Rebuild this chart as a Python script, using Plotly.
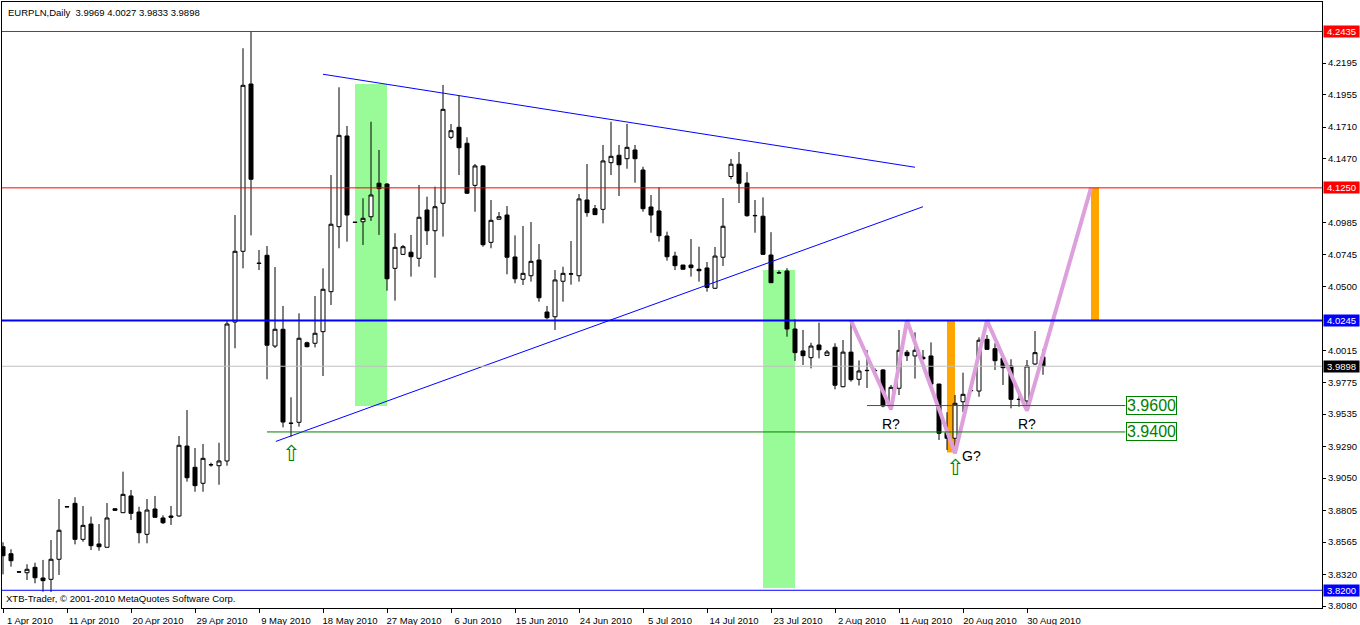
import pandas as pd
import plotly.graph_objects as go

# ---------------- data ----------------
symbol = "EURPLN,Daily"
_days = pd.date_range("2010-04-01", "2010-09-01", freq="D")
dates = [d for d in _days if d.weekday() != 5 and d != pd.Timestamp("2010-07-04")]

opens = [3.8530, 3.8477, 3.8340, 3.8333, 3.8374, 3.8293, 3.8283, 3.8435, 3.8834, 3.8859,
         3.8586, 3.8702, 3.8551, 3.8526, 3.8818, 3.8788, 3.8915, 3.8793, 3.8624, 3.8816,
         3.8748, 3.8763, 3.8763, 3.9293, 3.9132, 3.9011, 3.9150, 3.9144, 3.9180, 4.0233,
         4.0769, 4.2037, 4.0680, 4.0739, 4.0051, 4.0178, 3.9467, 3.9473, 4.0076, 4.0072,
         4.0160, 4.0463, 4.0956, 4.1643, 4.0990, 4.0993, 4.1031, 4.1285, 4.1279, 4.0640,
         4.0746, 4.0762, 4.0716, 4.1082, 4.0925, 4.1133, 4.1633, 4.1709, 4.1588, 4.1269,
         4.1416, 4.0837, 4.1012, 4.1044, 4.0726, 4.0557, 4.0584, 4.0703, 4.0309, 4.0273,
         4.0542, 4.0596, 4.0584, 4.1158, 4.1092, 4.1087, 4.1441, 4.1497, 4.1471, 4.1537,
         4.1385, 4.1105, 4.1075, 4.0885, 4.0733, 4.0665, 4.0665, 4.0633, 4.0643, 4.0489,
         4.0724, 4.1336, 4.1429, 4.1286, 4.1041, 4.1035, 4.0741, 4.0608, 4.0620, 4.0180,
         4.0014, 3.9963, 4.0059, 3.9980, 4.0042, 3.9743, 4.0005, 3.9799, 3.9867, 3.9864,
         3.9870, 3.9597, 3.9731, 4.0004, 3.9976, 3.9966, 3.9976, 3.9763, 3.9397, 3.9352,
         3.9629, 3.9712, 3.9710, 4.0102, 4.0031, 3.9958, 3.9900, 3.9648, 3.9635, 3.9915,
         3.9969]
highs = [3.8564, 3.8511, 3.8342, 3.8397, 3.8409, 3.8430, 3.8581, 3.8892, 3.8836, 3.8905,
         3.8839, 3.8758, 3.8702, 3.8861, 3.8820, 3.9099, 3.8960, 3.8833, 3.8892, 3.8915,
         3.8768, 3.8839, 3.9369, 3.9566, 3.9278, 3.9309, 3.9167, 3.9318, 4.0240, 4.1044,
         4.2308, 4.2435, 4.0779, 4.0809, 4.0650, 4.0355, 3.9663, 4.0299, 4.0084, 4.0430,
         4.0640, 4.1347, 4.2012, 4.1719, 4.0991, 4.1171, 4.1751, 4.1537, 4.1285, 4.0906,
         4.0817, 4.0893, 4.1272, 4.1183, 4.1259, 4.2030, 4.1734, 4.1948, 4.1633, 4.1431,
         4.1423, 4.1158, 4.1067, 4.1112, 4.0890, 4.0961, 4.0991, 4.0824, 4.0355, 4.0627,
         4.0652, 4.0847, 4.1203, 4.1431, 4.1120, 4.1575, 4.1751, 4.1575, 4.1734, 4.1575,
         4.1410, 4.1196, 4.1254, 4.0918, 4.0766, 4.0665, 4.0862, 4.0804, 4.0688, 4.0802,
         4.1173, 4.1469, 4.1522, 4.1369, 4.1158, 4.1178, 4.0914, 4.0625, 4.0641, 4.0254,
         4.0173, 4.0076, 4.0228, 4.0021, 4.0072, 4.0097, 4.0248, 3.9942, 4.0021, 3.9882,
         3.9875, 3.9756, 4.0173, 4.0021, 4.0155, 4.0021, 4.0079, 3.9765, 3.9549, 3.9680,
         3.9849, 3.9756, 4.0117, 4.0135, 4.0072, 3.9966, 3.9951, 3.9685, 3.9945, 4.0165,
         4.0027]
lows = [3.8321, 3.8379, 3.8334, 3.8278, 3.8253, 3.8189, 3.8187, 3.8316, 3.8831, 3.8548,
        3.8568, 3.8505, 3.8500, 3.8524, 3.8804, 3.8786, 3.8733, 3.8556, 3.8556, 3.8751,
        3.8702, 3.8695, 3.8758, 3.9023, 3.8947, 3.8947, 3.9137, 3.9000, 3.9144, 4.0034,
        4.0640, 4.0890, 4.0627, 3.9799, 4.0036, 3.9435, 3.9364, 3.9440, 4.0041, 4.0041,
        3.9824, 4.0362, 4.0792, 4.0842, 4.0987, 4.0817, 4.0999, 4.0893, 4.0470, 4.0395,
        4.0741, 4.0577, 4.0652, 4.0817, 4.0569, 4.0880, 4.1618, 4.1347, 4.1207, 4.1069,
        4.0804, 4.0792, 4.1010, 4.0595, 4.0527, 4.0514, 4.0539, 4.0387, 4.0254, 4.0173,
        4.0387, 4.0516, 4.0539, 4.1031, 4.1044, 4.0981, 4.1347, 4.1188, 4.1395, 4.1289,
        4.1069, 4.0910, 4.0842, 4.0698, 4.0627, 4.0633, 4.0577, 4.0539, 4.0463, 4.0483,
        4.0658, 4.1315, 4.1135, 4.1031, 4.0910, 4.0741, 4.0529, 4.0602, 4.0122, 3.9938,
        3.9907, 3.9882, 3.9958, 3.9978, 3.9723, 3.9738, 3.9781, 3.9752, 3.9733, 3.9858,
        3.9587, 3.9566, 3.9680, 3.9938, 3.9804, 3.9945, 3.9761, 3.9339, 3.9263, 3.9238,
        3.9551, 3.9705, 3.9667, 4.0021, 3.9870, 3.9756, 3.9579, 3.9591, 3.9579, 3.9907,
        3.9833]
closes = [3.8462, 3.8424, 3.8338, 3.8359, 3.8295, 3.8273, 3.8435, 3.8655, 3.8832, 3.8586,
          3.8692, 3.8538, 3.8530, 3.8748, 3.8806, 3.8927, 3.8783, 3.8636, 3.8808, 3.8753,
          3.8712, 3.8753, 3.9299, 3.9053, 3.8993, 3.9200, 3.9152, 3.9180, 4.0218, 4.0769,
          4.2027, 4.1315, 4.0677, 4.0057, 4.0178, 3.9475, 3.9465, 4.0110, 4.0046, 4.0148,
          4.0481, 4.0974, 4.1648, 4.1044, 4.0988, 4.1019, 4.1196, 4.1244, 4.0561, 4.0799,
          4.0804, 4.0728, 4.1027, 4.0925, 4.1107, 4.1845, 4.1683, 4.1554, 4.1209, 4.1416,
          4.0819, 4.1004, 4.1031, 4.0724, 4.0561, 4.0602, 4.0693, 4.0417, 4.0266, 4.0552,
          4.0602, 4.0598, 4.1166, 4.1062, 4.1047, 4.1454, 4.1489, 4.1425, 4.1557, 4.1471,
          4.1092, 4.1044, 4.0887, 4.0728, 4.0660, 4.0633, 4.0645, 4.0622, 4.0495, 4.0733,
          4.0959, 4.1429, 4.1285, 4.1039, 4.1039, 4.0746, 4.0531, 4.0605, 4.0180, 4.0001,
          3.9978, 4.0051, 4.0023, 4.0006, 3.9754, 4.0005, 3.9796, 3.9862, 3.9865, 3.9866,
          3.9597, 3.9738, 4.0019, 3.9978, 4.0019, 3.9955, 3.9763, 3.9390, 3.9352, 3.9617,
          3.9685, 3.9714, 4.0095, 4.0026, 3.9940, 3.9887, 3.9647, 3.9646, 3.9900, 4.0001,
          3.9898]

price_ticks = [4.2195, 4.1955, 4.1710, 4.1470, 4.0985, 4.0745, 4.0500, 4.0015,
               3.9775, 3.9535, 3.9290, 3.9050, 3.8805, 3.8565, 3.8320, 3.8080]

high_level = 4.2435
target_level = 4.1250
neckline = 4.0245
bid_price = 3.9898
low_level = 3.8200

support_levels = [3.9600, 3.9400]
support_start = [108, 33]

tl_upper_x = [40.0, 114.0]
tl_upper_y = [4.2111, 4.1406]
tl_lower_x = [34.1, 115.0]
tl_lower_y = [3.9328, 4.1107]

green_zones = [(44, 48, 3.9597, 4.2037), (95, 99, 3.8218, 4.0627)]
orange_zones = [(118, 119, 3.9245, 4.0245), (136, 137, 4.0245, 4.1250)]

zz_x = [106, 111, 113, 119, 123, 128, 136]
zz_y = [4.0245, 3.9572, 4.0245, 3.9238, 4.0245, 3.9561, 4.1250]

pattern_labels = ["R?", "R?", "G?"]
pattern_x = [111, 128, 121]
pattern_y = [3.9460, 3.9460, 3.9218]

arrow_x = [36, 119]
arrow_y = [3.9240, 3.9127]

# ---------------- figure ----------------
assert len(dates) == len(opens) == len(highs) == len(lows) == len(closes)
xs = list(range(len(dates)))
date_text = [d.strftime("%Y.%m.%d") for d in dates]
tick_idx = list(range(0, len(dates), 8))
tick_txt = [f"{dates[i].day} {dates[i].strftime('%b')} {dates[i].year}" for i in tick_idx]

FONT = "Liberation Sans"
fig = go.Figure()

fig.add_trace(go.Candlestick(
    x=xs, open=opens, high=highs, low=lows, close=closes, text=date_text,
    increasing=dict(line=dict(color="black", width=1), fillcolor="white"),
    decreasing=dict(line=dict(color="black", width=1), fillcolor="black"),
    whiskerwidth=0, showlegend=False, name=symbol,
))

fig.add_trace(go.Scatter(x=tl_upper_x, y=tl_upper_y, mode="lines",
                         line=dict(color="#0000FF", width=1), showlegend=False, hoverinfo="skip"))
fig.add_trace(go.Scatter(x=tl_lower_x, y=tl_lower_y, mode="lines",
                         line=dict(color="#0000FF", width=1), showlegend=False, hoverinfo="skip"))
fig.add_trace(go.Scatter(x=zz_x, y=zz_y, mode="lines",
                         line=dict(color="#DDA0DD", width=4), showlegend=False, hoverinfo="skip"))

shapes = []
for x0, x1, y0, y1 in green_zones:
    shapes.append(dict(type="rect", xref="x", yref="y", x0=x0, x1=x1, y0=y0, y1=y1,
                       fillcolor="#98FB98", line=dict(width=0), layer="below"))
for x0, x1, y0, y1 in orange_zones:
    shapes.append(dict(type="rect", xref="x", yref="y", x0=x0, x1=x1, y0=y0, y1=y1,
                       fillcolor="#FFA500", line=dict(width=0), layer="below"))

hlines = [(high_level, "#FF0000", 1), (target_level, "#FF0000", 1), (neckline, "#0000FF", 2),
          (bid_price, "#C0C0C0", 1), (low_level, "#0000FF", 1)]
for p, c, w in hlines:
    shapes.append(dict(type="line", xref="paper", yref="y", x0=0, x1=1, y0=p, y1=p,
                       line=dict(color=c, width=w), layer="above"))
for lvl, st in zip(support_levels, support_start):
    shapes.append(dict(type="line", xref="x", yref="y", x0=st, x1=140.3, y0=lvl, y1=lvl,
                       line=dict(color="#008000", width=1), layer="above"))

annotations = []
label_specs = [(high_level, "#FF0000"), (target_level, "#FF0000"), (neckline, "#0000FF"),
               (bid_price, "#000000"), (low_level, "#0000FF")]
for p, bg in label_specs:
    annotations.append(dict(xref="paper", yref="y", x=1, y=p, xanchor="left", yanchor="middle",
                            xshift=1, text=f"{p:.4f}", showarrow=False, bgcolor=bg,
                            borderpad=0, width=35, align="center",
                            font=dict(family=FONT, size=9.5, color="white")))
for lvl in support_levels:
    annotations.append(dict(xref="x", yref="y", x=140.4, y=lvl, xanchor="left", yanchor="middle",
                            text=f"{lvl:.4f}", showarrow=False, bgcolor="white",
                            bordercolor="#008000", borderwidth=1, borderpad=0,
                            font=dict(family=FONT, size=16, color="#008000")))
for t, px, py in zip(pattern_labels, pattern_x, pattern_y):
    annotations.append(dict(xref="x", yref="y", x=px, y=py, text=t, showarrow=False,
                            font=dict(family=FONT, size=14, color="black")))
for ax_, ay_ in zip(arrow_x, arrow_y):
    annotations.append(dict(xref="x", yref="y", x=ax_, y=ay_, text="⇧", showarrow=False,
                            font=dict(family="DejaVu Sans", size=22, color="#008000")))
annotations.append(dict(xref="paper", yref="paper", x=0, y=1, xanchor="left", yanchor="top",
                        xshift=4, yshift=-3, showarrow=False,
                        text=f"{symbol}\u00a0\u00a0{opens[-1]:.4f} {highs[-1]:.4f} {lows[-1]:.4f} {closes[-1]:.4f}",
                        font=dict(family=FONT, size=9.5, color="black")))
annotations.append(dict(xref="paper", yref="paper", x=0, y=0, xanchor="left", yanchor="bottom",
                        xshift=2, yshift=2, showarrow=False,
                        text="XTB-Trader, © 2001-2010 MetaQuotes Software Corp.",
                        font=dict(family=FONT, size=9.5, color="black")))

fig.update_layout(
    width=1360, height=625,
    margin=dict(l=2, r=38, t=2, b=17, pad=0),
    paper_bgcolor="white", plot_bgcolor="white",
    boxgap=0.5, boxgroupgap=0,
    shapes=shapes, annotations=annotations,
    font=dict(family=FONT, size=9.5, color="black"),
    xaxis=dict(range=[-0.125, 164.875], showgrid=False, zeroline=False, automargin=False,
               showline=True, mirror=True, linecolor="black", linewidth=1,
               ticks="outside", ticklen=4, tickcolor="black",
               tickvals=tick_idx, ticktext=tick_txt, ticklabelshift=27,
               tickfont=dict(family=FONT, size=9.5, color="black"),
               rangeslider=dict(visible=False)),
    yaxis=dict(side="right", range=[3.80657, 4.26585], showgrid=False, zeroline=False,
               automargin=False,
               showline=True, mirror=True, linecolor="black", linewidth=1,
               ticks="outside", ticklen=3, tickcolor="black",
               tickvals=price_ticks, ticktext=[f"{v:.4f}" for v in price_ticks],
               tickfont=dict(family=FONT, size=9.5, color="black")),
)

fig.write_html("out.html", config={"displayModeBar": False},
               post_script="document.body.style.margin='0';document.body.style.overflow='hidden';")
